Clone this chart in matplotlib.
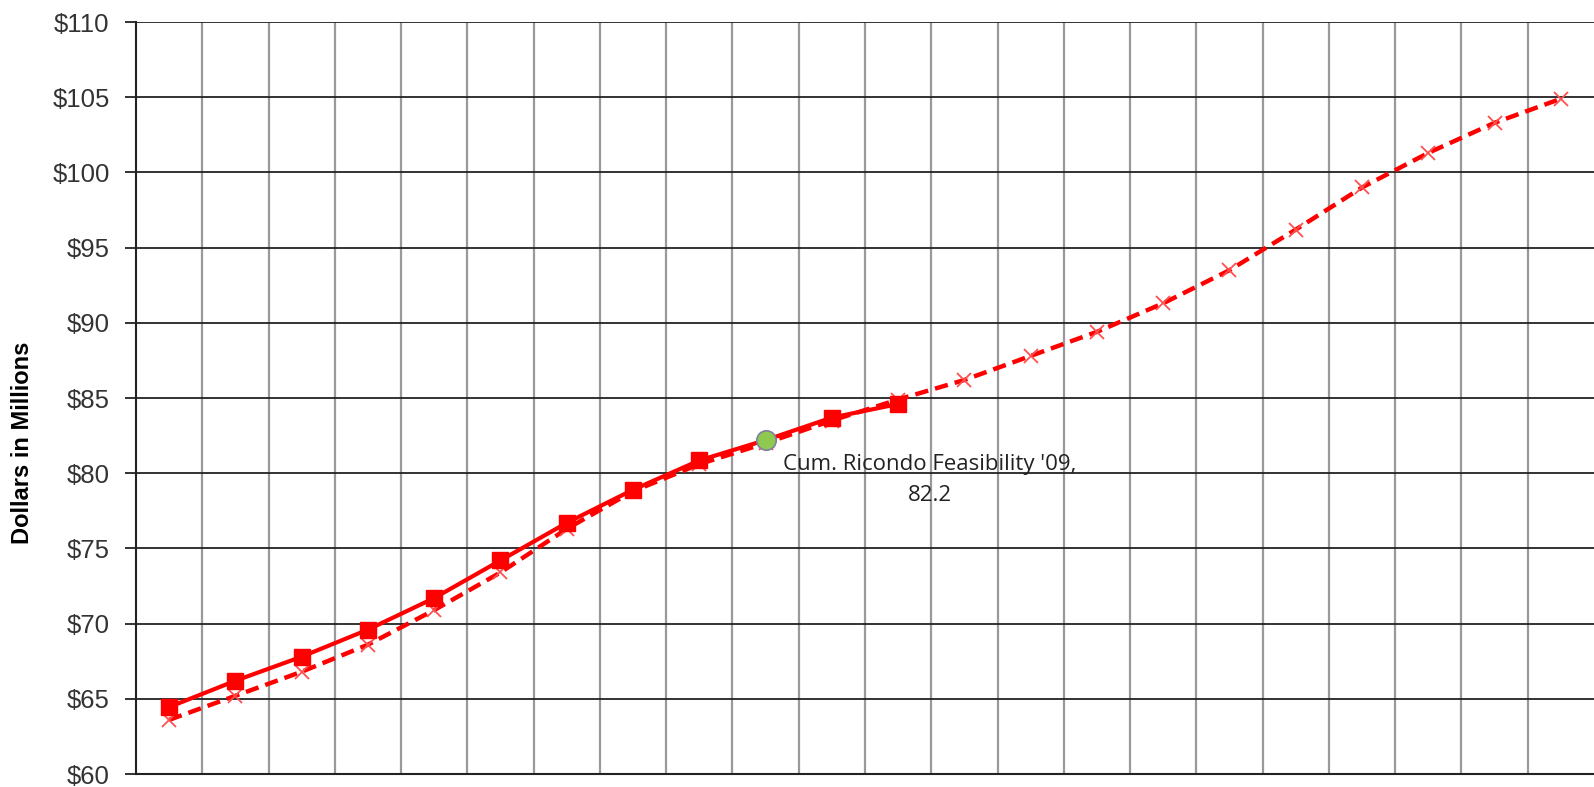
import numpy as np
import matplotlib.pyplot as plt
from matplotlib.ticker import FuncFormatter, MultipleLocator

# values (dollars in millions)
actual = [64.45, 66.2, 67.8, 69.6, 71.7, 74.2, 76.7, 78.9, 80.85, 82.2, 83.7, 84.6]
projected = [63.6, 65.2, 66.8, 68.6, 70.9, 73.4, 76.3, 78.8, 80.6, 82.0, 83.5, 84.9,
             86.2, 87.8, 89.4, 91.3, 93.5, 96.2, 99.0, 101.3, 103.3, 104.9]
feas_idx = 9
feas_val = 82.2
feas_label = "Cum. Ricondo Feasibility '09,\n82.2"

plt.rcParams['font.family'] = ['Liberation Sans', 'DejaVu Sans']

fig = plt.figure(figsize=(15.94, 7.87), dpi=100)
ax = fig.add_axes([0.0853, 0.0165, 0.9147, 0.9555])

n = len(projected)
x_proj = np.arange(n)
x_act = np.arange(len(actual))

# projected series: dashed line with x markers
ax.plot(x_proj, projected, color='red', lw=3.2, linestyle=(0, (3, 1.6)), zorder=3)
ax.plot(x_proj, projected, linestyle='none', marker='x', ms=10, mew=1.3,
        color='#ff5050', zorder=4)

# actual series: solid line with squares, feasibility point in green
act_idx = [i for i in x_act if i != feas_idx]
ax.plot(x_act, actual, color='red', lw=3, zorder=5)
ax.plot(act_idx, [actual[i] for i in act_idx], linestyle='none', marker='s', ms=11,
        color='red', zorder=6)
ax.plot([feas_idx], [feas_val], linestyle='none', marker='o', ms=14,
        markerfacecolor='#8fc950', markeredgecolor='#7f7f9f', mew=1.2, zorder=7)
ax.text(11.48, 81.3, feas_label, ha='center', va='top',
        fontsize=16, family=['Open Sans', 'DejaVu Sans'], color='#222222',
        linespacing=1.65, zorder=8)

ax.set_xlim(-0.5, n - 0.5)
ax.set_ylim(60, 110)
ax.yaxis.set_major_locator(MultipleLocator(5))
ax.yaxis.set_major_formatter(FuncFormatter(lambda v, p: f'${v:.0f}'))
ax.set_xticks([])
ax.set_xticks(np.arange(0.5, n - 0.5, 1), minor=True)
ax.tick_params(axis='x', which='both', length=0)
ax.tick_params(axis='y', length=8, width=1.3, color='#222222', labelsize=18.5,
               labelcolor='#333333', pad=11)

ax.grid(axis='y', which='major', color='#222222', lw=1.3)
ax.grid(axis='x', which='minor', color='#999999', lw=1.6)
ax.set_axisbelow(True)

for side in ['top', 'right']:
    ax.spines[side].set_visible(False)
for side in ['left', 'bottom']:
    ax.spines[side].set_color('#222222')
    ax.spines[side].set_linewidth(1.5)

ax.set_ylabel('Dollars in Millions', fontsize=17, fontweight='bold')
ax.yaxis.set_label_coords(-0.070, 0.441)

fig.savefig('out.png', dpi=100)
